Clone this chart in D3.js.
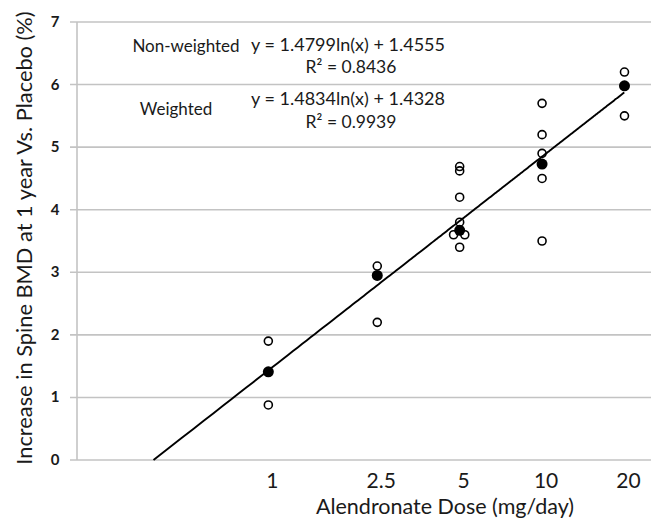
<!DOCTYPE html>
<html lang="en">
  <head>
    <meta charset="UTF-8" />
    <title></title>
    <script src="https://d3js.org/d3.v7.min.js"></script>
    <style>
      body { margin: 0; background: #fff; }
      text { font-family: Lato, 'Open Sans', sans-serif; fill: #1a1a1a; }
    </style>
  </head>
  <body>
    <svg id="chart" width="652" height="528"></svg>
    <script>
      // individual study results (dose mg/day, % increase)
      const openDose = [1, 1, 2.5, 2.5, 5, 5, 5, 5, 4.75, 5.22, 5, 10, 10, 10, 10, 10, 20, 20]
      const openBMD = [1.9, 0.88, 3.1, 2.2, 4.69, 4.62, 4.2, 3.8, 3.6, 3.6, 3.4, 5.7, 5.2, 4.9, 4.5, 3.5, 6.2, 5.5]
      // weighted means per dose
      const meanDose = [1, 2.5, 5, 10, 20]
      const meanBMD = [1.41, 2.95, 3.67, 4.73, 5.98]
      const xTicks = [1, 2.5, 5, 10, 20]
      const yTicks = [0, 1, 2, 3, 4, 5, 6, 7]
      // weighted fit y = a ln(x) + b
      const fitA = 1.4834, fitB = 1.4328

      const svg = d3.select('#chart')
      const x = d3.scaleLog().domain([0.2, 25]).range([77, 651])
      const y = d3.scaleLinear().domain([0, 7]).range([460, 22])

      // gridlines
      svg.append('g')
        .selectAll('line')
        .data(yTicks)
        .join('line')
        .attr('x1', 70).attr('x2', 651)
        .attr('y1', d => y(d)).attr('y2', d => y(d))
        .attr('stroke', '#c3c3c3')
        .attr('stroke-width', 1.6)

      // y axis line
      svg.append('line')
        .attr('x1', 77).attr('x2', 77)
        .attr('y1', y(7)).attr('y2', y(0))
        .attr('stroke', '#c3c3c3')
        .attr('stroke-width', 1.6)

      // y tick labels
      svg.append('g')
        .selectAll('text')
        .data(yTicks)
        .join('text')
        .attr('x', 55)
        .attr('y', d => y(d) + 5)
        .attr('text-anchor', 'middle')
        .style('font-size', '15px')
        .style('font-weight', 'bold')
        .text(d => d)

      // x tick labels
      svg.append('g')
        .selectAll('text')
        .data(xTicks)
        .join('text')
        .attr('x', d => x(d) + 4)
        .attr('y', 488)
        .attr('text-anchor', 'middle')
        .style('font-size', '21px')
        .text(d => d)

      // axis titles
      svg.append('text')
        .attr('x', 445)
        .attr('y', 514)
        .attr('text-anchor', 'middle')
        .style('font-size', '21.5px')
        .text('Alendronate Dose (mg/day)')

      svg.append('text')
        .attr('transform', 'translate(32,238) rotate(-90)')
        .attr('text-anchor', 'middle')
        .style('font-size', '21.8px')
        .text('Increase in Spine BMD at 1 year Vs. Placebo (%)')

      // fitted curve
      const xs = d3.range(Math.exp(-fitB / fitA), 20.001, 0.05)
      svg.append('path')
        .datum(xs)
        .attr('fill', 'none')
        .attr('stroke', '#000')
        .attr('stroke-width', 1.9)
        .attr('d', d3.line().x(d => x(d)).y(d => y(fitA * Math.log(d) + fitB)))

      // open markers
      svg.append('g')
        .selectAll('circle')
        .data(openDose)
        .join('circle')
        .attr('cx', d => x(d))
        .attr('cy', (d, i) => y(openBMD[i]))
        .attr('r', 4)
        .attr('fill', 'none')
        .attr('stroke', '#000')
        .attr('stroke-width', 1.6)

      // filled means
      svg.append('g')
        .selectAll('circle')
        .data(meanDose)
        .join('circle')
        .attr('cx', d => x(d))
        .attr('cy', (d, i) => y(meanBMD[i]))
        .attr('r', 5.5)
        .attr('fill', '#000')

      // annotations
      const notes = [
        { t: 'Non-weighted', x: 186, y: 52, s: 17 },
        { t: 'y = 1.4799ln(x) + 1.4555', x: 348, y: 51, s: 18 },
        { t: 'R² = 0.8436', x: 351, y: 73, s: 17.5 },
        { t: 'Weighted', x: 176, y: 115, s: 17 },
        { t: 'y = 1.4834ln(x) + 1.4328', x: 348, y: 105, s: 18 },
        { t: 'R² = 0.9939', x: 351, y: 128, s: 17.5 }
      ]
      svg.append('g')
        .selectAll('text')
        .data(notes)
        .join('text')
        .attr('x', d => d.x)
        .attr('y', d => d.y)
        .attr('text-anchor', 'middle')
        .style('font-size', d => d.s + 'px')
        .text(d => d.t)
    </script>
  </body>
</html>
